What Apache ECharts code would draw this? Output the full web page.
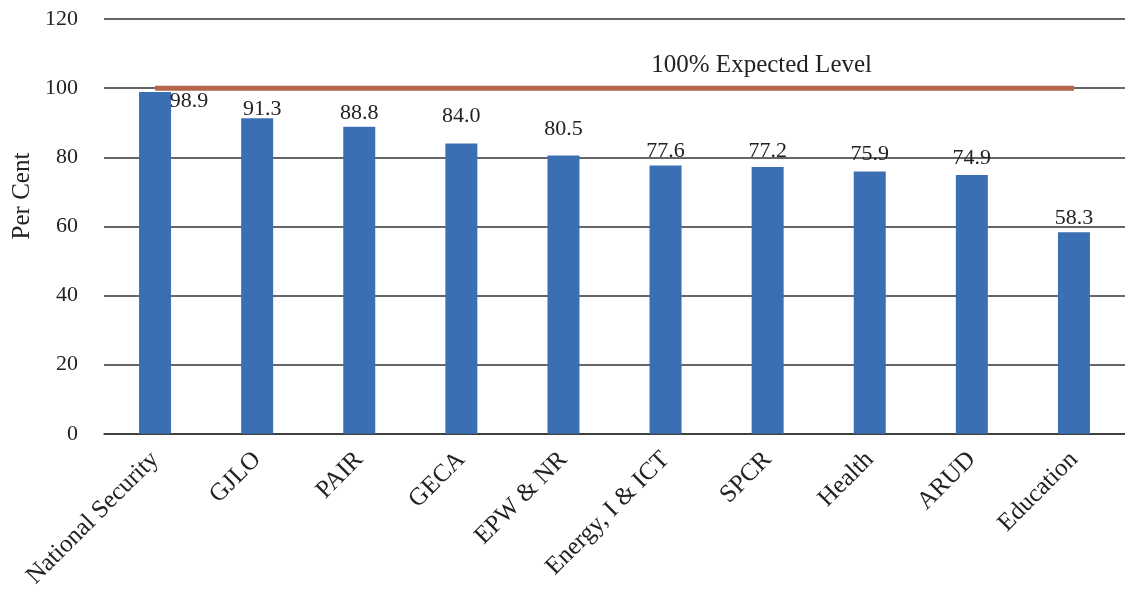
<!DOCTYPE html>
<html><head><meta charset="utf-8">
<script src="https://cdn.jsdelivr.net/npm/echarts@6/dist/echarts.min.js"></script>
<style>html,body{margin:0;padding:0;background:#fff}#c{width:1125px;height:591px}</style>
</head><body><div id="c"></div>
<script>
const categories = ['National Security','GJLO','PAIR','GECA','EPW & NR','Energy, I & ICT','SPCR','Health','ARUD','Education'];
const values = [98.9, 91.3, 88.8, 84.0, 80.5, 77.6, 77.2, 75.9, 74.9, 58.3];
const expected = [100, 100, 100, 100, 100, 100, 100, 100, 100, 100];
const expectedLabel = '100% Expected Level';
const yTicks = [0, 20, 40, 60, 80, 100, 120];
const FONT = 'Liberation Serif';

// label nudges (style only)
const labelOffsets = [[34, 26], [5, 8], [0, 3], [0, -10], [0, -9], [0, 3], [0, 1], [0, 0], [0, 0], [0, 3]];

const chart = echarts.init(document.getElementById('c'));
chart.setOption({
  animation: false,
  backgroundColor: '#fff',
  textStyle: {fontFamily: FONT},
  grid: {left: 104, right: 0, top: 19, bottom: 157, containLabel: false},
  xAxis: {
    type: 'category', data: categories,
    axisLine: {show: true, lineStyle: {color: '#333', width: 1.5}},
    axisTick: {show: false},
    axisLabel: {rotate: 45, fontFamily: FONT, fontSize: 25, color: '#222', margin: 22, interval: 0}
  },
  yAxis: {
    type: 'value', min: yTicks[0], max: yTicks[yTicks.length-1], interval: 20,
    axisLine: {show: false}, axisTick: {show: false},
    axisLabel: {fontFamily: FONT, fontSize: 22, color: '#222', margin: 26},
    splitLine: {lineStyle: {color: '#333', width: 1.5}}
  },
  graphic: [{
    type: 'text', x: 22, y: 196, rotation: Math.PI/2,
    style: {text: 'Per Cent', font: '25px "Liberation Serif"', fill: '#222', align: 'center', verticalAlign: 'middle'}
  }],
  series: [{
    type: 'bar', data: values.map((v, i) => ({value: v, label: {offset: labelOffsets[i]}})), barWidth: 32,
    itemStyle: {color: '#3b6fb4'},
    label: {show: true, position: 'top', distance: 6, fontFamily: FONT, fontSize: 22, color: '#222', formatter: p => p.value.toFixed(1)},
    z: 2
  }, {
    type: 'line',
    data: expected.map((v, i) => i === 6 ? {value: v, label: {show: true, position: 'top', distance: 10, formatter: expectedLabel, offset: [-6, 0]}} : v),
    symbol: 'circle', symbolSize: 0, showSymbol: true,
    lineStyle: {color: '#b5654b', width: 5},
    itemStyle: {color: '#b5654b'},
    label: {show: false, fontFamily: FONT, fontSize: 25, color: '#222'},
    z: 3
  }]
});
</script></body></html>
